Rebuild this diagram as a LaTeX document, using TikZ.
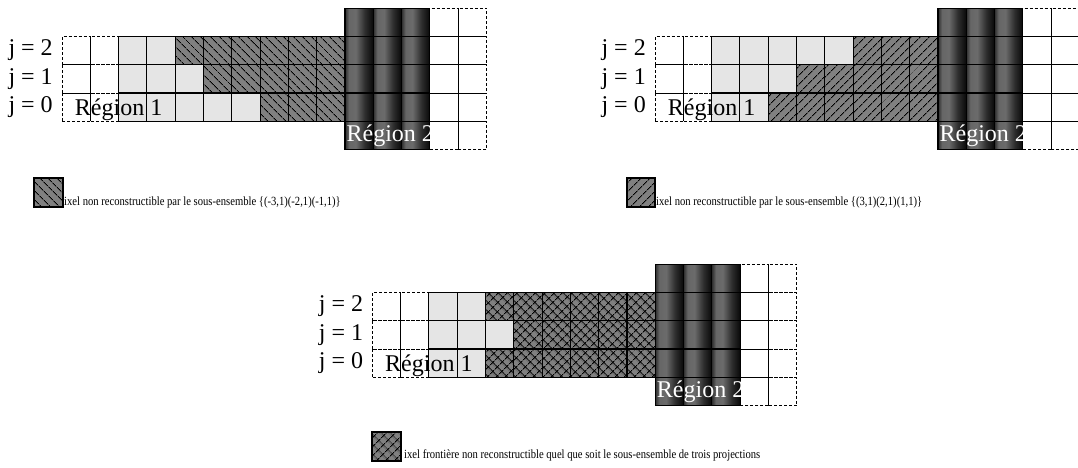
\documentclass[tikz,border=0pt]{standalone}
\usepackage{fontspec}
\setmainfont{Liberation Serif}
\usepackage{tikz}
\usetikzlibrary{patterns.meta}
\pgfdeclarehorizontalshading{cylindre}{100bp}{color(0bp)=(black!82); color(25bp)=(black!82);
  color(32bp)=(black!60); color(44bp)=(black!58); color(60bp)=(black!82);
  color(75bp)=(black!97); color(100bp)=(black!97)}

% one grid: #1 name, #2 origin, #3 motif style, #4 #5 #6 light cells on j = 2, 1, 0
\newcommand{\grille}[6]{%
\begin{scope}[shift={#2},x=28.3pt,y=28.3pt]
  % dashed cells, left and right
  \foreach \c in {0,1} \foreach \r in {0,1,2} \draw[vide] (\c,\r) rectangle ++(1,1);
  \foreach \c in {13,14} \foreach \r in {-1,...,3} \draw[vide] (\c,\r) rectangle ++(1,1);
  % region 1 cells
  \foreach \r/\n in {2/#4,1/#5,0/#6} {
    \pgfmathtruncatemacro\lim{1+\n}
    \foreach \c in {2,...,9} {
      \ifnum\c>\lim \draw[#3] (\c,\r) rectangle ++(1,1);
      \else \draw[clair] (\c,\r) rectangle ++(1,1); \fi
    }
  }
  % region 2 columns
  \foreach \c in {10,11,12} \shade[shading=cylindre] (\c,-1) rectangle ++(1,5);
  \foreach \c in {10,11,12} \foreach \r in {-1,...,3} \draw[ligne] (\c,\r) rectangle ++(1,1);
  % labels
  \foreach \r in {0,1,2} \node[jlbl] (#1j\r) at (-0.32,\r+0.5) {j = \r};
  \node[reglbl] (#1r1) at (0.45,0.2) {Région 1};
  \node[reglbl,text=white] (#1r2) at (10.05,-0.72) {Région 2};
\end{scope}}

\begin{document}
\begin{tikzpicture}[x=1pt,y=1pt,
  ligne/.style={draw=black,line width=1.1pt},
  vide/.style={draw=black,line width=0.9pt,dash pattern=on 3pt off 2pt},
  clair/.style={ligne,fill=black!10},
  motifA/.style={ligne,preaction={fill=black!50},
                 pattern={Lines[angle=-45,distance=6.5pt,line width=1pt]}},
  motifB/.style={ligne,preaction={fill=black!50},
                 pattern={Lines[angle=45,distance=6.5pt,line width=1pt]}},
  motifC/.style={ligne,preaction={fill=black!50},
                 pattern={Hatch[angle=45,distance=6.5pt,line width=1pt]}},
  jlbl/.style={anchor=east,inner sep=0pt,font=\fontsize{24pt}{28pt}\selectfont},
  reglbl/.style={anchor=base west,inner sep=0pt,font=\fontsize{24pt}{28pt}\selectfont},
  leglbl/.style={anchor=base west,inner sep=0pt,xscale=0.85,
                 font=\fontsize{12.5pt}{14pt}\selectfont}]
\useasboundingbox (0,0) rectangle (1078,468);

% ===== GRID 1 — subset (-3,1)(-2,1)(-1,1) =====
\grille{ga}{(62,346.7)}{motifA}{2}{3}{5}
% ===== GRID 2 — subset (3,1)(2,1)(1,1) =====
\grille{gb}{(655,346.7)}{motifB}{5}{3}{2}
% ===== GRID 3 — frontier =====
\grille{gc}{(372.3,90.7)}{motifC}{2}{3}{2}

% ===== LEGENDS — swatch, then text =====
\draw[motifA] (34,261) rectangle (63,290);
\node[leglbl] (la) at (64,262) {ixel non reconstructible par le sous-ensemble \{(-3,1)(-2,1)(-1,1)\}};
\draw[motifB] (627,261) rectangle (655,290);
\node[leglbl] (lb) at (656,262) {ixel non reconstructible par le sous-ensemble \{(3,1)(2,1)(1,1)\}};
\draw[motifC] (372,7) rectangle (401,36);
\node[leglbl] (lc) at (404,9) {ixel frontière non reconstructible quel que soit le sous-ensemble de trois projections};
\end{tikzpicture}
\end{document}
